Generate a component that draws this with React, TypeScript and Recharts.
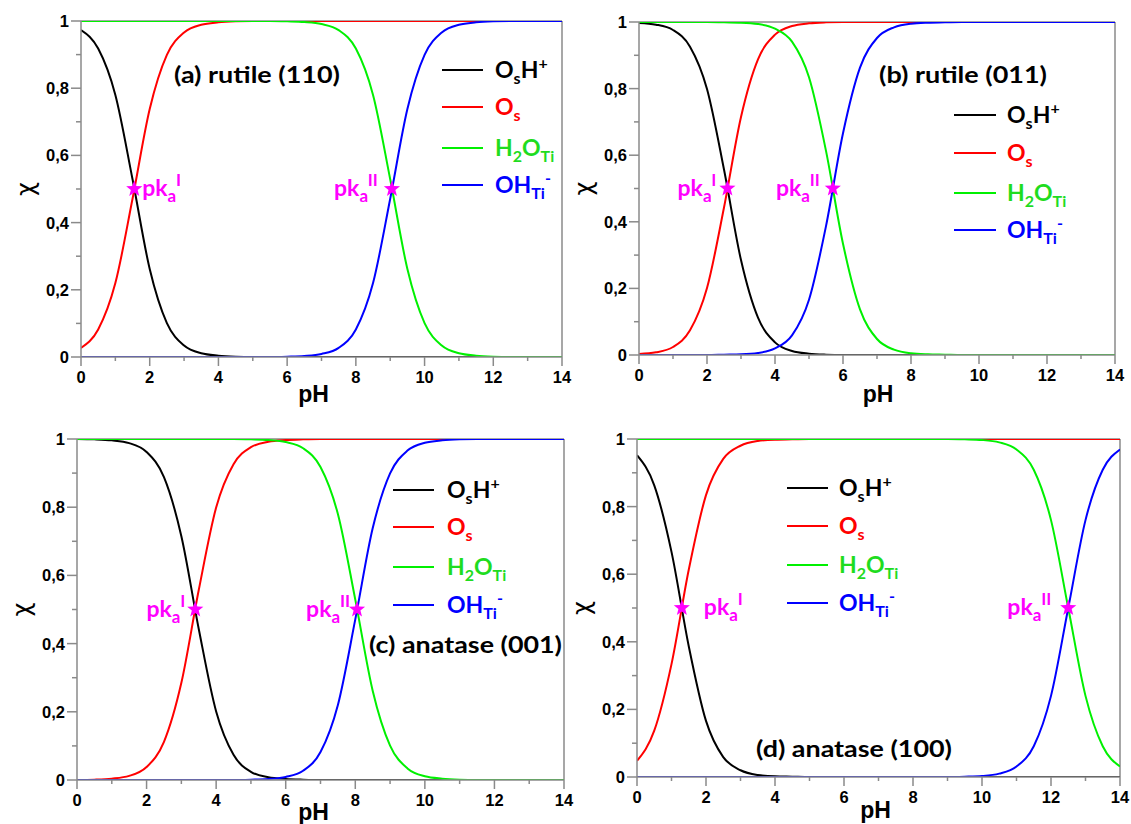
import React from 'react';
import { LineChart, Line, XAxis, YAxis, ReferenceLine, ReferenceDot } from 'recharts';

// pH grid shared by all four panels
const PH = [0, 0.5, 1, 1.5, 2, 2.5, 3, 3.5, 4, 4.5, 5, 5.5, 6, 6.5, 7, 7.5, 8, 8.5, 9, 9.5, 10, 10.5, 11, 11.5, 12, 12.5, 13, 13.5, 14];

// (a) rutile (110)
const OSH_A = [0.973, 0.918, 0.78, 0.529, 0.262, 0.101, 0.034, 0.011, 0.004, 0.001, 0, 0, 0, 0, 0, 0, 0, 0, 0, 0, 0, 0, 0, 0, 0, 0, 0, 0, 0];
const OS_A = [0.027, 0.082, 0.22, 0.471, 0.738, 0.899, 0.966, 0.989, 0.996, 0.999, 1, 1, 1, 1, 1, 1, 1, 1, 1, 1, 1, 1, 1, 1, 1, 1, 1, 1, 1];
const H2O_A = [1, 1, 1, 1, 1, 1, 1, 1, 1, 1, 1, 1, 0.999, 0.997, 0.991, 0.973, 0.918, 0.78, 0.529, 0.262, 0.101, 0.034, 0.011, 0.004, 0.001, 0, 0, 0, 0];
const OH_A = [0, 0, 0, 0, 0, 0, 0, 0, 0, 0, 0, 0, 0.001, 0.003, 0.009, 0.027, 0.082, 0.22, 0.471, 0.738, 0.899, 0.966, 0.989, 0.996, 0.999, 1, 1, 1, 1];
const PKA_A = [1.55, 9.05];

// (b) rutile (011)
const OSH_B = [0.997, 0.992, 0.976, 0.926, 0.799, 0.557, 0.285, 0.112, 0.038, 0.012, 0.004, 0.001, 0, 0, 0, 0, 0, 0, 0, 0, 0, 0, 0, 0, 0, 0, 0, 0, 0];
const OS_B = [0.003, 0.008, 0.024, 0.074, 0.201, 0.443, 0.715, 0.888, 0.962, 0.988, 0.996, 0.999, 1, 1, 1, 1, 1, 1, 1, 1, 1, 1, 1, 1, 1, 1, 1, 1, 1];
const H2O_B = [1, 1, 1, 1, 1, 0.999, 0.998, 0.994, 0.98, 0.941, 0.834, 0.613, 0.334, 0.137, 0.048, 0.016, 0.005, 0.002, 0.001, 0, 0, 0, 0, 0, 0, 0, 0, 0, 0];
const OH_B = [0, 0, 0, 0, 0, 0.001, 0.002, 0.006, 0.02, 0.059, 0.166, 0.387, 0.666, 0.863, 0.952, 0.984, 0.995, 0.998, 0.999, 1, 1, 1, 1, 1, 1, 1, 1, 1, 1];
const PKA_B = [2.6, 5.7];

// (c) anatase (001)
const OSH_C = [1, 0.999, 0.996, 0.988, 0.962, 0.888, 0.715, 0.443, 0.201, 0.074, 0.024, 0.008, 0.003, 0.001, 0, 0, 0, 0, 0, 0, 0, 0, 0, 0, 0, 0, 0, 0, 0];
const OS_C = [0, 0.001, 0.004, 0.012, 0.038, 0.112, 0.285, 0.557, 0.799, 0.926, 0.976, 0.992, 0.997, 0.999, 1, 1, 1, 1, 1, 1, 1, 1, 1, 1, 1, 1, 1, 1, 1];
const H2O_C = [1, 1, 1, 1, 1, 1, 1, 1, 1, 1, 0.999, 0.997, 0.991, 0.973, 0.918, 0.78, 0.529, 0.262, 0.101, 0.034, 0.011, 0.004, 0.001, 0, 0, 0, 0, 0, 0];
const OH_C = [0, 0, 0, 0, 0, 0, 0, 0, 0, 0, 0.001, 0.003, 0.009, 0.027, 0.082, 0.22, 0.471, 0.738, 0.899, 0.966, 0.989, 0.996, 0.999, 1, 1, 1, 1, 1, 1];
const PKA_C = [3.4, 8.05];

// (d) anatase (100)
const OSH_D = [0.952, 0.863, 0.666, 0.387, 0.166, 0.059, 0.02, 0.006, 0.002, 0.001, 0, 0, 0, 0, 0, 0, 0, 0, 0, 0, 0, 0, 0, 0, 0, 0, 0, 0, 0];
const OS_D = [0.048, 0.137, 0.334, 0.613, 0.834, 0.941, 0.98, 0.994, 0.998, 0.999, 1, 1, 1, 1, 1, 1, 1, 1, 1, 1, 1, 1, 1, 1, 1, 1, 1, 1, 1];
const H2O_D = [1, 1, 1, 1, 1, 1, 1, 1, 1, 1, 1, 1, 1, 1, 1, 1, 1, 1, 1, 0.999, 0.997, 0.99, 0.969, 0.909, 0.76, 0.5, 0.24, 0.091, 0.031];
const OH_D = [0, 0, 0, 0, 0, 0, 0, 0, 0, 0, 0, 0, 0, 0, 0, 0, 0, 0, 0, 0.001, 0.003, 0.01, 0.031, 0.091, 0.24, 0.5, 0.76, 0.909, 0.969];
const PKA_D = [1.3, 12.5];

const X_TICKS = [0, 1, 2, 3, 4, 5, 6, 7, 8, 9, 10, 11, 12, 13, 14];
const Y_TICKS = [0, 0.1, 0.2, 0.3, 0.4, 0.5, 0.6, 0.7, 0.8, 0.9, 1];

const AXIS_GREY = '#8a8a8a';
const MAGENTA = '#ff00ff';
const TXT_FONT = 'Lato, "Open Sans", sans-serif';
const NUM_FONT = '"Liberation Sans", Arial, sans-serif';

// part kinds: 0 normal, 1 subscript, 2 superscript
const LEGEND_ITEMS = [
  { key: 'osh', color: '#000000', text: '#000000', parts: [['O', 0], ['s', 1], ['H', 0], ['+', 2]] },
  { key: 'os', color: '#ff0000', text: '#ff0000', parts: [['O', 0], ['s', 1]] },
  { key: 'h2o', color: '#00f000', text: '#1fdc1f', parts: [['H', 0], ['2', 1], ['O', 0], ['Ti', 1]] },
  { key: 'oh', color: '#0000ff', text: '#0000ff', parts: [['OH', 0], ['Ti', 1], ['-', 2]] },
];

const PANELS = [
  {
    title: '(a) rutile (110)', osh: OSH_A, os: OS_A, h2o: H2O_A, oh: OH_A, pka: PKA_A,
    box: { left: 7, top: 0, pw: 481, ph: 336 },
    titlePos: { x: 174, y: 83, w: 166 },
    legend: { x1: 442, x2: 483, tx: 495, rows: [70, 107, 148, 185] },
    marks: [{ roman: 'I', side: 'right', gap: 8 }, { roman: 'II', side: 'left', gap: 14 }],
    phDx: -8, phDy: 45,
  },
  {
    title: '(b) rutile (011)', osh: OSH_B, os: OS_B, h2o: H2O_B, oh: OH_B, pka: PKA_B,
    box: { left: 565, top: 1, pw: 476, ph: 333 },
    titlePos: { x: 879, y: 83, w: 168 },
    legend: { x1: 954, x2: 996, tx: 1007, rows: [115, 153, 193, 230] },
    marks: [{ roman: 'I', side: 'left', gap: 11 }, { roman: 'II', side: 'left', gap: 13 }],
    phDx: 1, phDy: 47,
  },
  {
    title: '(c) anatase (001)', osh: OSH_C, os: OS_C, h2o: H2O_C, oh: OH_C, pka: PKA_C,
    box: { left: 3, top: 418, pw: 487, ph: 341 },
    titlePos: { x: 369, y: 653, w: 193 },
    legend: { x1: 393, x2: 434, tx: 447, rows: [490, 527, 567, 605] },
    marks: [{ roman: 'I', side: 'left', gap: 10 }, { roman: 'II', side: 'left', gap: 7 }],
    phDx: -7, phDy: 40,
  },
  {
    title: '(d) anatase (100)', osh: OSH_D, os: OS_D, h2o: H2O_D, oh: OH_D, pka: PKA_D,
    box: { left: 563, top: 418, pw: 483, ph: 338 },
    titlePos: { x: 756, y: 757, w: 196 },
    legend: { x1: 787, x2: 828, tx: 839, rows: [488, 526, 565, 603] },
    marks: [{ roman: 'I', side: 'right', gap: 22 }, { roman: 'II', side: 'left', gap: 17 }],
    phDx: -3, phDy: 41,
  },
];

function renderParts(parts: any[], subDy: number, supDy: number, small: number) {
  let cur = 0;
  return parts.map(([s, kind]: [string, number], i: number) => {
    const want = kind === 1 ? subDy : kind === 2 ? supDy : 0;
    const dy = want - cur;
    cur = want;
    return (
      <tspan key={i} dy={dy} fontSize={kind === 0 ? undefined : small}>
        {s}
      </tspan>
    );
  });
}

function starPoints(cx: number, cy: number, R: number, r: number) {
  const pts: string[] = [];
  for (let i = 0; i < 10; i++) {
    const a = -Math.PI / 2 + (i * Math.PI) / 5;
    const rad = i % 2 === 0 ? R : r;
    pts.push(`${cx + rad * Math.cos(a)},${cy + rad * Math.sin(a)}`);
  }
  return pts.join(' ');
}

const PkaMark = ({ cx, cy, roman, side, gap }: any) => {
  const right = side === 'right';
  return (
    <g>
      <polygon points={starPoints(cx, cy, 8.5, 3.6)} fill={MAGENTA} />
      <text
        x={right ? cx + gap : cx - gap}
        y={cy + 7}
        textAnchor={right ? 'start' : 'end'}
        fill={MAGENTA}
        fontFamily={TXT_FONT}
        fontWeight="bold"
        fontSize={23}
      >
        {renderParts([['pk', 0], ['a', 1], [roman, 2]], 6, -10, 17)}
      </text>
    </g>
  );
};

const XTick = ({ x, y, payload }: any) => {
  const major = payload.value % 2 === 0;
  return (
    <g>
      <line x1={x} y1={y} x2={x} y2={y + (major ? 9 : 4)} stroke={AXIS_GREY} strokeWidth={1.5} />
      {major && (
        <text x={x} y={y + 26} textAnchor="middle" fontFamily={NUM_FONT} fontWeight="bold" fontSize={16.5} fill="#000">
          {payload.value}
        </text>
      )}
    </g>
  );
};

const YTick = ({ x, y, payload }: any) => {
  const v = payload.value;
  const major = Math.round(v * 10) % 2 === 0;
  const label = v === 0 ? '0' : v === 1 ? '1' : v.toFixed(1).replace('.', ',');
  return (
    <g>
      <line x1={x} y1={y} x2={x - (major ? 10 : 5)} y2={y} stroke={AXIS_GREY} strokeWidth={1.5} />
      {major && (
        <text x={x - 12} y={y + 6} textAnchor="end" fontFamily={NUM_FONT} fontWeight="bold" fontSize={16.5} fill="#000">
          {label}
        </text>
      )}
    </g>
  );
};

const Panel = ({ p }: any) => {
  const rows = PH.map((ph, i) => ({ ph, osh: p.osh[i], os: p.os[i], h2o: p.h2o[i], oh: p.oh[i] }));
  const { box } = p;
  return (
    <div style={{ position: 'absolute', left: box.left, top: box.top }}>
      <LineChart
        width={box.pw + 94}
        height={box.ph + 81}
        data={rows}
        margin={{ top: 21, right: 20, left: 0, bottom: 0 }}
      >
        <XAxis
          dataKey="ph"
          type="number"
          domain={[0, 14]}
          ticks={X_TICKS}
          interval={0}
          tick={(t: any) => <XTick {...t} />}
          tickSize={0}
          tickMargin={0}
          tickLine={false}
          axisLine={{ stroke: AXIS_GREY, strokeWidth: 1.5 }}
          height={60}
          allowDataOverflow
          label={(l: any) => {
            const vb = l.viewBox || {};
            return (
              <text
                x={vb.x + vb.width / 2 + p.phDx}
                y={vb.y + p.phDy}
                textAnchor="middle"
                fontFamily={NUM_FONT}
                fontWeight="bold"
                fontSize={23}
                fill="#000"
              >
                pH
              </text>
            );
          }}
        />
        <YAxis
          type="number"
          domain={[0, 1]}
          ticks={Y_TICKS}
          interval={0}
          tick={(t: any) => <YTick {...t} />}
          tickSize={0}
          tickMargin={0}
          tickLine={false}
          axisLine={{ stroke: AXIS_GREY, strokeWidth: 1.5 }}
          width={74}
          allowDataOverflow
          label={(l: any) => {
            const vb = l.viewBox || {};
            const cx = vb.x + vb.width - 55;
            const cy = vb.y + vb.height / 2;
            return (
              <text
                x={cx}
                y={cy}
                transform={`rotate(-90 ${cx} ${cy})`}
                textAnchor="middle"
                dominantBaseline="central"
                fontFamily='"DejaVu Sans", sans-serif'
                fontSize={24}
                fill="#000"
              >
                χ
              </text>
            );
          }}
        />
        <ReferenceLine x={14} stroke={AXIS_GREY} strokeWidth={1.5} />
        <ReferenceLine y={1} stroke={AXIS_GREY} strokeWidth={1.5} />
        {LEGEND_ITEMS.map((it) => (
          <Line
            key={it.key}
            dataKey={it.key}
            type="monotone"
            stroke={it.color}
            strokeWidth={2}
            dot={false}
            activeDot={false}
            isAnimationActive={false}
          />
        ))}
        {p.pka.map((v: number, i: number) => (
          <ReferenceDot
            key={i}
            x={v}
            y={0.5}
            r={8}
            shape={(s: any) => <PkaMark cx={s.cx} cy={s.cy} {...p.marks[i]} />}
          />
        ))}
      </LineChart>
    </div>
  );
};

const Overlay = () => (
  <svg
    width={1131}
    height={824}
    style={{ position: 'absolute', left: 0, top: 0, pointerEvents: 'none', overflow: 'visible' }}
  >
    {PANELS.map((p, pi) => (
      <g key={pi}>
        <text
          x={p.titlePos.x}
          y={p.titlePos.y}
          textLength={p.titlePos.w}
          lengthAdjust="spacingAndGlyphs"
          fontFamily={TXT_FONT}
          fontWeight="bold"
          fontSize={22}
          fill="#000"
        >
          {p.title}
        </text>
        {LEGEND_ITEMS.map((it, i) => {
          const y = p.legend.rows[i];
          return (
            <g key={it.key}>
              <line x1={p.legend.x1} y1={y} x2={p.legend.x2} y2={y} stroke={it.color} strokeWidth={2} />
              <text
                x={p.legend.tx}
                y={y + 8}
                fontFamily={TXT_FONT}
                fontWeight="bold"
                fontSize={23}
                fill={it.text}
              >
                {renderParts(it.parts, 6, -9, 16)}
              </text>
            </g>
          );
        })}
      </g>
    ))}
  </svg>
);

export default function App() {
  return (
    <div style={{ position: 'absolute', left: 0, top: 0, width: 1131, height: 824, background: '#fff', overflow: 'hidden' }}>
      {PANELS.map((p, i) => (
        <Panel key={i} p={p} />
      ))}
      <Overlay />
    </div>
  );
}
